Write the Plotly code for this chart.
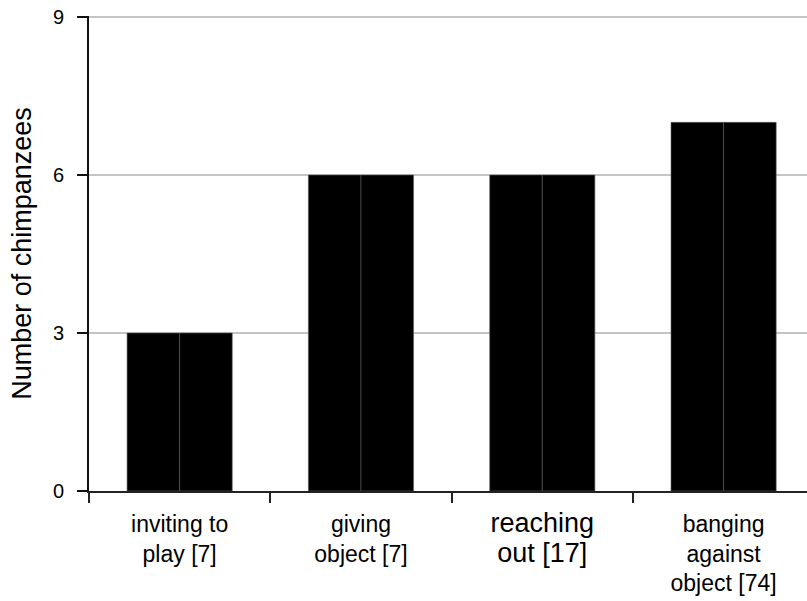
import plotly.graph_objects as go

categories = ["inviting to play [7]", "giving object [7]", "reaching out [17]", "banging against object [74]"]
tick_labels = [
    "inviting to<br>play [7]",
    "giving<br>object [7]",
    "<span style='font-size:27px'>reaching</span><br><span style='font-size:27px'>out [17]</span>",
    "banging<br>against<br>object [74]",
]
values = [3, 6, 6, 7]
y_ticks = [0, 3, 6, 9]

fig = go.Figure()
for _ in range(2):
    fig.add_trace(go.Bar(
        x=tick_labels, y=values,
        marker=dict(color="#000000", line=dict(color="#5a5a5a", width=0.6)),
        showlegend=False, hoverinfo="skip",
    ))

fig.update_layout(
    width=807, height=601,
    margin=dict(l=89, r=0, t=16, b=110),
    paper_bgcolor="white", plot_bgcolor="white",
    barmode="group", bargap=0.42, bargroupgap=0,
    font=dict(family="Liberation Sans, Arial, sans-serif", color="#000000"),
)
fig.update_xaxes(
    type="category", range=[-0.5, 3.46], automargin=False,
    showline=True, linecolor="#222222", linewidth=2,
    ticks="outside", ticklen=10, tickwidth=1.5, tickcolor="#222222",
    tickson="boundaries", showgrid=False,
    tickfont=dict(size=23, color="#000000"),
    ticklabelstandoff=11,
)
fig.update_yaxes(
    range=[0, 9.02], tickvals=y_ticks, automargin=False,
    showline=True, linecolor="#111111", linewidth=2,
    ticks="outside", ticklen=10, tickwidth=1.5, tickcolor="#111111",
    showgrid=True, gridcolor="#c4c4c4", gridwidth=2, zeroline=False,
    tickfont=dict(size=20, color="#000000"),
    ticklabelstandoff=9, ticklabeloverflow="allow",
    title=dict(text="Number of chimpanzees", font=dict(size=27, color="#000000"), standoff=13),
)

fig.write_html("out.html", config={"displayModeBar": False},
               post_script="document.body.style.margin='0';")
